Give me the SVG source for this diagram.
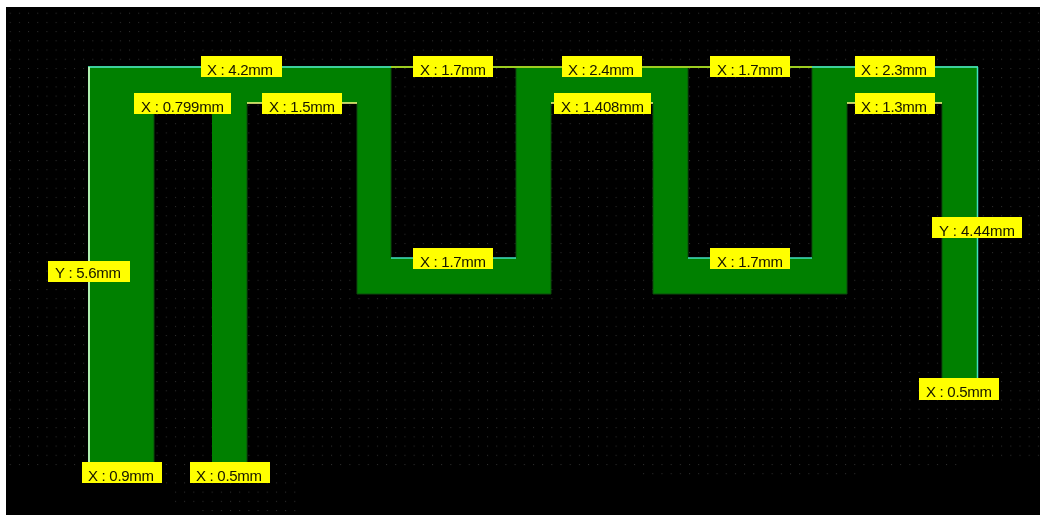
<svg xmlns="http://www.w3.org/2000/svg" width="1040" height="515" viewBox="0 0 1040 515">
<defs>
<pattern id="dots" x="9.700" y="12.700" width="9.180" height="9.210" patternUnits="userSpaceOnUse"><rect width="1" height="1" fill="#303030"/></pattern>
<filter id="soft" x="-5%" y="-20%" width="110%" height="140%"><feGaussianBlur stdDeviation="0.4"/></filter>
</defs>
<style>
.lab{fill:#ffff00}
.txt{font-family:"Liberation Sans",Arial,sans-serif;font-size:15px;fill:#141400;filter:url(#soft)}
.teal{stroke:#3ccf9c;stroke-width:2;fill:none}
.cyan{stroke:#40e0c0;stroke-width:1.5;fill:none}
.ylw{stroke:#9ccc20;stroke-width:2;fill:none}
.inner{stroke:#ffff80;stroke-width:1.5;fill:none}
.dark{stroke:#0c4a0c;stroke-width:1;fill:none}
</style>
<rect width="1040" height="515" fill="#ffffff"/>
<rect x="6" y="7" width="1034" height="508" fill="#000000"/>
<path fill="url(#dots)" d="M6 7H1040V460H957V469H857V478H643V469H297V515H195V506H175V487H166V478H150V469H6Z"/>
<path id="trace" fill="#008000" d="M88 67H391V258H516V67H688V258H812V67H978V378H942V103H847V294H653V103H551V294H357V103H247V462H212V103H154V462H88Z"/>
<g id="connectors">
<path class="dark" d="M154 114V462M247 103V462M357 103V294H551V103M653 103V294H847V103M942 103V378M391 67V258M516 67V258M688 67V258M812 67V258"/>
<path class="teal" d="M88 67H391M812 67H978"/>
<path class="ylw" d="M391 67H812"/>
<path class="cyan" d="M391 258H516M688 258H812M977.500 67V378"/>
<path class="inner" d="M247 103H357M551 103H653M847 103H942"/>
<path d="M89 67V462" fill="none" stroke="#b0f0b0" stroke-width="2"/>
</g>
<g id="label-x-4-2"><rect class="lab" x="201" y="56" width="81" height="21"/><text class="txt" x="207" y="75" textLength="66">X : 4.2mm</text></g>
<g id="label-x-0-799"><rect class="lab" x="134" y="93" width="97" height="21"/><text class="txt" x="141" y="112" textLength="83">X : 0.799mm</text></g>
<g id="label-x-1-5"><rect class="lab" x="262" y="93" width="80" height="21"/><text class="txt" x="269" y="112" textLength="66">X : 1.5mm</text></g>
<g id="label-x-1-7-a"><rect class="lab" x="413" y="56" width="80" height="21"/><text class="txt" x="420" y="75" textLength="66">X : 1.7mm</text></g>
<g id="label-x-2-4"><rect class="lab" x="562" y="56" width="80" height="21"/><text class="txt" x="568" y="75" textLength="66">X : 2.4mm</text></g>
<g id="label-x-1-408"><rect class="lab" x="554" y="93" width="97" height="21"/><text class="txt" x="561" y="112" textLength="83">X : 1.408mm</text></g>
<g id="label-x-1-7-b"><rect class="lab" x="710" y="56" width="80" height="21"/><text class="txt" x="717" y="75" textLength="66">X : 1.7mm</text></g>
<g id="label-x-2-3"><rect class="lab" x="855" y="56" width="80" height="21"/><text class="txt" x="861" y="75" textLength="66">X : 2.3mm</text></g>
<g id="label-x-1-3"><rect class="lab" x="855" y="93" width="80" height="21"/><text class="txt" x="861" y="112" textLength="66">X : 1.3mm</text></g>
<g id="label-y-4-44"><rect class="lab" x="932" y="217" width="90" height="21"/><text class="txt" x="939" y="236" textLength="76">Y : 4.44mm</text></g>
<g id="label-x-1-7-c"><rect class="lab" x="413" y="248" width="80" height="21"/><text class="txt" x="420" y="267" textLength="66">X : 1.7mm</text></g>
<g id="label-x-1-7-d"><rect class="lab" x="710" y="248" width="80" height="21"/><text class="txt" x="717" y="267" textLength="66">X : 1.7mm</text></g>
<g id="label-y-5-6"><rect class="lab" x="48" y="261" width="82" height="21"/><text class="txt" x="55" y="278" textLength="66">Y : 5.6mm</text></g>
<g id="label-x-0-9"><rect class="lab" x="82" y="462" width="80" height="21"/><text class="txt" x="88" y="481" textLength="66">X : 0.9mm</text></g>
<g id="label-x-0-5-a"><rect class="lab" x="190" y="462" width="80" height="21"/><text class="txt" x="196" y="481" textLength="66">X : 0.5mm</text></g>
<g id="label-x-0-5-b"><rect class="lab" x="919" y="378" width="80" height="22"/><text class="txt" x="926" y="397" textLength="66">X : 0.5mm</text></g>
</svg>
